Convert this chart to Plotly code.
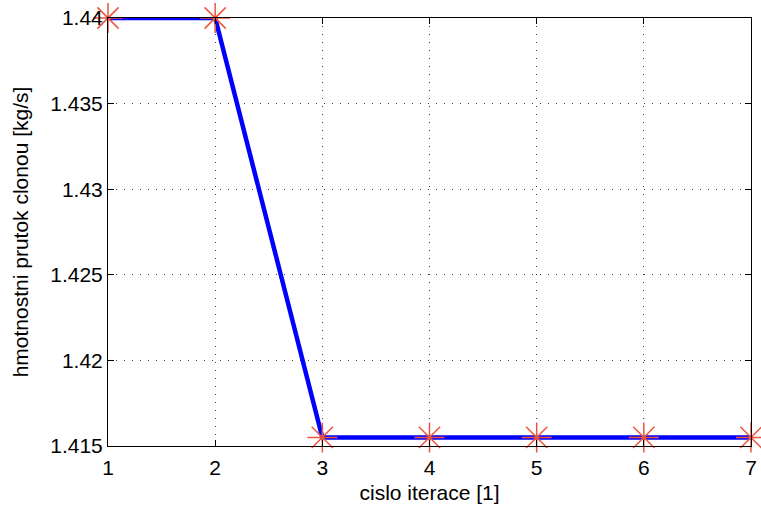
import plotly.graph_objects as go

iterations = [1, 2, 3, 4, 5, 6, 7]
flow = [1.44, 1.44, 1.4155, 1.4155, 1.4155, 1.4155, 1.4155]
x_ticks = [1, 2, 3, 4, 5, 6, 7]
y_ticks = [1.415, 1.42, 1.425, 1.43, 1.435, 1.44]
y_labels = ["1.415", "1.42", "1.425", "1.43", "1.435", "1.44"]

FONT = "Liberation Sans, Arial, Helvetica, sans-serif"

fig = go.Figure()
fig.add_trace(go.Scatter(
    x=iterations, y=flow, mode="lines",
    line=dict(color="#0000ff", width=4.5),
    cliponaxis=False, showlegend=False))
fig.add_trace(go.Scatter(
    x=iterations, y=flow, mode="markers",
    marker=dict(symbol="asterisk-open", size=25, line=dict(color="#ff0000", width=1.5)),
    cliponaxis=False, showlegend=False))

axis_common = dict(
    showline=True, linecolor="black", linewidth=1, mirror="allticks",
    ticks="inside", ticklen=6, tickcolor="black", tickwidth=1,
    showgrid=True, gridcolor="rgba(0,0,0,0.75)", gridwidth=1, griddash="1px,7px",
    zeroline=False, automargin=False,
    tickfont=dict(family=FONT, size=21, color="black"),
    title_font=dict(family=FONT, size=21, color="black"),
)

fig.update_layout(
    width=761, height=506,
    margin=dict(l=108, r=10, t=18, b=60),
    paper_bgcolor="white", plot_bgcolor="white",
    xaxis=dict(range=[1, 7], tickvals=x_ticks, ticklabelstandoff=3,
               title=dict(text="cislo iterace [1]", standoff=7), **axis_common),
    yaxis=dict(range=[1.415, 1.44], tickvals=y_ticks, ticktext=y_labels,
               title=dict(text="hmotnostni prutok clonou [kg/s]", standoff=15), **axis_common),
)

fig.write_html("out.html")
